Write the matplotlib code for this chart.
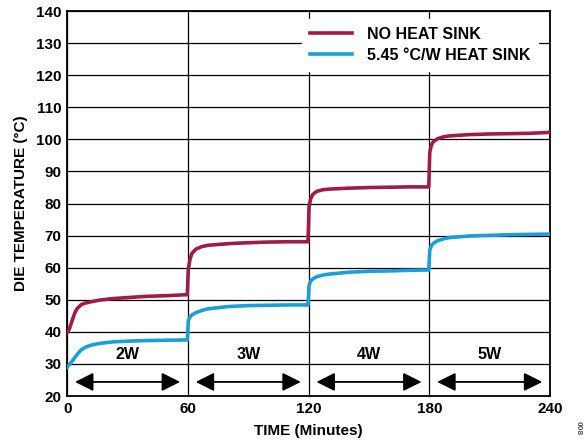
import matplotlib.pyplot as plt
from matplotlib.patches import FancyArrowPatch

plt.rcParams['font.family'] = ['Liberation Sans', 'DejaVu Sans']
plt.rcParams['font.weight'] = 'bold'

# readings taken off the reference curve (minutes, deg C)
time_min = [0, 1, 2, 3, 4, 5, 7, 9, 12, 16, 23, 30, 40, 50, 59.7,
            60.2, 61, 62, 64, 67, 70, 80, 90, 100, 110, 119.7,
            120.2, 121, 122, 124, 127, 130, 140, 150, 160, 170, 179.7,
            180.2, 181, 182, 184, 187, 190, 200, 210, 220, 230, 240]
no_sink = [39.8, 40.8, 42.6, 44.5, 46.2, 47.3, 48.5, 49.0, 49.4, 49.9, 50.4, 50.7, 51.1, 51.3, 51.6,
           59.5, 62.5, 64.5, 65.8, 66.6, 67.0, 67.5, 67.8, 68.0, 68.1, 68.1,
           79.0, 81.5, 82.8, 83.8, 84.3, 84.5, 84.8, 85.0, 85.1, 85.2, 85.2,
           96.0, 98.3, 99.3, 100.2, 100.8, 101.1, 101.5, 101.7, 101.8, 101.9, 102.2]
heat_sink = [29.0, 29.8, 30.5, 31.3, 32.2, 33.0, 34.4, 35.2, 35.9, 36.4, 36.9, 37.1, 37.3, 37.4, 37.5,
             43.5, 44.6, 45.3, 46.0, 46.7, 47.2, 47.9, 48.2, 48.3, 48.4, 48.4,
             54.5, 55.8, 56.5, 57.2, 57.7, 58.0, 58.6, 58.9, 59.0, 59.2, 59.3,
             65.5, 66.9, 67.6, 68.4, 69.0, 69.4, 69.9, 70.1, 70.3, 70.4, 70.5]

power_labels = ['2W', '3W', '4W', '5W']
segment_starts = [0, 60, 120, 180]
x_ticks = [0, 60, 120, 180, 240]
y_ticks = list(range(20, 141, 10))

red = '#A01C48'
blue = '#1B9FD8'

fig = plt.figure(figsize=(5.84, 4.44), dpi=100)
ax = fig.add_axes([0.115, 0.108, 0.827, 0.867])

ax.plot(time_min, no_sink, color=red, lw=2.6, label='NO HEAT SINK', zorder=3)
ax.plot(time_min, heat_sink, color=blue, lw=2.6, label='5.45 °C/W HEAT SINK', zorder=3)

ax.set_xlim(0, 240)
ax.set_ylim(20, 140)
ax.set_xticks(x_ticks)
ax.set_yticks(y_ticks)
ax.tick_params(length=0, labelsize=11, pad=4)
for lab in ax.get_xticklabels() + ax.get_yticklabels():
    lab.set_fontweight('bold')
ax.grid(True, color='black', lw=0.9)
ax.set_axisbelow(True)
for sp in ax.spines.values():
    sp.set_linewidth(1.3)

# power step annotations with double arrows
for start, lab in zip(segment_starts, power_labels):
    ax.text(start + 30, 33, lab, ha='center', va='center', fontsize=11.5, fontweight='bold')
    arr = FancyArrowPatch((start + 2.5, 24.4), (start + 57.5, 24.4),
                          arrowstyle='<|-|>,head_length=7,head_width=3.5',
                          color='black', lw=1.3, mutation_scale=1.6)
    ax.add_patch(arr)

ax.set_xlabel('TIME (Minutes)', fontsize=11, fontweight='bold', labelpad=6)
ax.set_ylabel('DIE TEMPERATURE (°C)', fontsize=11, fontweight='bold', labelpad=6)

leg = ax.legend(loc='upper right', bbox_to_anchor=(0.992, 1.0), frameon=True,
                fancybox=False, edgecolor='white', facecolor='white', framealpha=1,
                handlelength=2.6, handletextpad=0.95, borderpad=0.5,
                labelspacing=0.35, prop={'weight': 'bold', 'size': 11.5})

fig.text(0.99, 0.035, '008', rotation=270, fontsize=6, color='#555555', ha='center', va='center')

fig.savefig('out.png', dpi=100)
